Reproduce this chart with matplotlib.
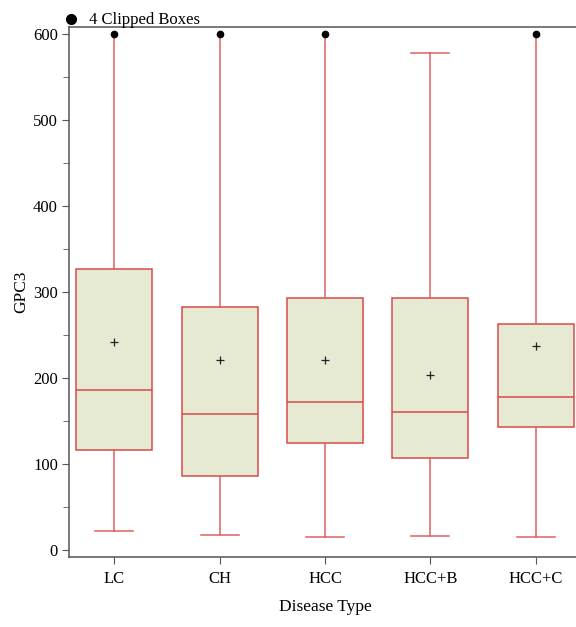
import matplotlib
matplotlib.use('Agg')
import matplotlib.pyplot as plt
from matplotlib.lines import Line2D

grupos = ['LC', 'CH', 'HCC', 'HCC+B', 'HCC+C']
q1 = [117, 86.5, 124.8, 106.7, 142.8]
mediana = [185.8, 158, 171.8, 160.9, 177.7]
q3 = [326.6, 282.4, 292.8, 292.8, 262.6]
bigote_inf = [22.5, 17.8, 14.8, 16, 15]
bigote_sup = [600, 600, 600, 577.9, 600]
media = [242, 221.4, 220.7, 203.3, 237.7]
recortado = [True, True, True, False, True]

plt.rcParams['font.family'] = ['Liberation Serif', 'DejaVu Serif']

fig = plt.figure(figsize=(5.76, 6.27), dpi=100)
# el eje derecho queda justo fuera de la imagen
ax = fig.add_axes([69/576, 1-557/627, (581-69)/576, (557-27)/627])

stats = []
for i in range(len(grupos)):
    stats.append({'label': grupos[i], 'q1': q1[i], 'med': mediana[i], 'q3': q3[i],
                  'whislo': bigote_inf[i], 'whishi': bigote_sup[i], 'mean': media[i]})

rojo = '#D94A4A'
bp = ax.bxp(stats, positions=range(1, 6), widths=0.72, patch_artist=True, showmeans=True,
            showfliers=False,
            boxprops=dict(facecolor='#E6EAD3', edgecolor=rojo, linewidth=1.1),
            medianprops=dict(color=rojo, linewidth=1.1),
            whiskerprops=dict(color='#DE6060', linewidth=1.1),
            capprops=dict(color='#DE6060', linewidth=1.1),
            capwidths=0.36,
            meanprops=dict(marker='+', markeredgecolor='#222222', markersize=6, markeredgewidth=0.9))

for i in range(len(grupos)):
    if recortado[i]:
        bp['caps'][2*i+1].set_visible(False)
        ax.plot(i + 1, bigote_sup[i], 'o', color='black', markersize=4.5, clip_on=False, zorder=5)

ax.set_xlim(0.569, 5.43)
ax.set_ylim(-8, 608.5)
ax.set_yticks(range(0, 601, 100))
ax.set_yticks(range(50, 600, 100), minor=True)
ax.tick_params(axis='both', which='major', length=5, color='#555555', labelsize=12, labelcolor='black', pad=3)
ax.tick_params(axis='y', which='minor', length=4, color='#555555')
ax.tick_params(axis='x', pad=5)
ax.spines['right'].set_visible(False)
for s in ['left', 'bottom', 'top']:
    ax.spines[s].set_color('#555555')
    ax.spines[s].set_linewidth(1.1)

ax.set_xlabel('Disease Type', fontsize=12.5, labelpad=9)
ax.set_ylabel('GPC3', fontsize=12.5, labelpad=3)

manejador = Line2D([], [], marker='o', color='black', linestyle='None', markersize=7)
fig.legend([manejador], ['4 Clipped Boxes'], loc='upper left', bbox_to_anchor=(0.083, 1.004),
           frameon=False, fontsize=12, handletextpad=0.55, handlelength=1.0)

fig.savefig('out.png', dpi=100)
